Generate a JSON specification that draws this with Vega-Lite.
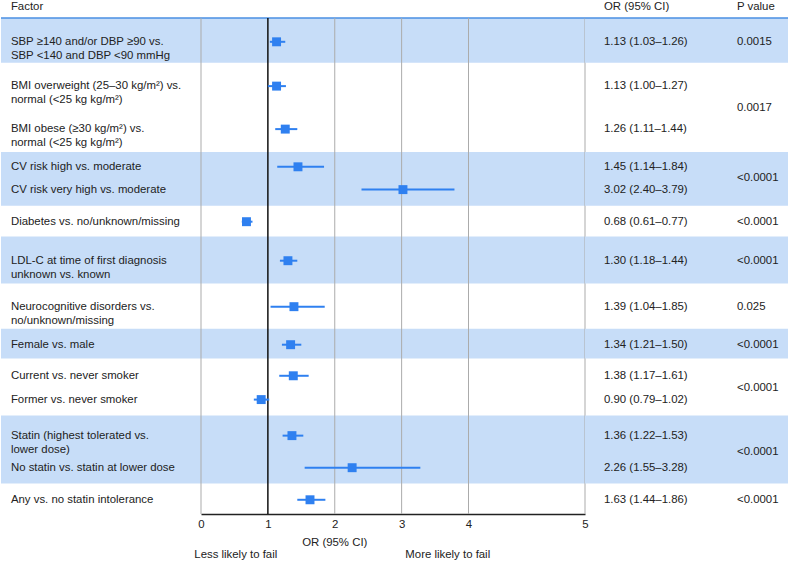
{
  "$schema": "https://vega.github.io/schema/vega-lite/v6.json",
  "padding": 0,
  "background": "white",
  "bounds": "flush",
  "spacing": 0,
  "config": {
    "view": {"stroke": null},
    "font": "Liberation Sans",
    "text": {"font": "Liberation Sans", "fontSize": 11.4, "color": "#222222"},
    "axis": {"labelFont": "Liberation Sans", "labelFontSize": 11.4, "labelColor": "#222222"}
  },
  "datasets": {
    "rows": [
      {"label": "SBP ≥140 and/or DBP ≥90 vs.\nSBP <140 and DBP <90 mmHg", "group": 1, "pos": 0.72, "or": 1.13, "lo": 1.03, "hi": 1.26, "ci": "1.13 (1.03–1.26)", "p": "0.0015"},
      {"label": "BMI overweight (25–30 kg/m²) vs.\nnormal (<25 kg kg/m²)", "group": 2, "pos": 2.06, "or": 1.13, "lo": 1.00, "hi": 1.27, "ci": "1.13 (1.00–1.27)", "p": "0.0017"},
      {"label": "BMI obese (≥30 kg/m²) vs.\nnormal (<25 kg kg/m²)", "group": 2, "pos": 3.36, "or": 1.26, "lo": 1.11, "hi": 1.44, "ci": "1.26 (1.11–1.44)", "p": "0.0017"},
      {"label": "CV risk high vs. moderate", "group": 3, "pos": 4.50, "or": 1.45, "lo": 1.14, "hi": 1.84, "ci": "1.45 (1.14–1.84)", "p": "<0.0001"},
      {"label": "CV risk very high vs. moderate", "group": 3, "pos": 5.19, "or": 3.02, "lo": 2.40, "hi": 3.79, "ci": "3.02 (2.40–3.79)", "p": "<0.0001"},
      {"label": "Diabetes vs. no/unknown/missing", "group": 4, "pos": 6.16, "or": 0.68, "lo": 0.61, "hi": 0.77, "ci": "0.68 (0.61–0.77)", "p": "<0.0001"},
      {"label": "LDL-C at time of first diagnosis\nunknown vs. known", "group": 5, "pos": 7.34, "or": 1.30, "lo": 1.18, "hi": 1.44, "ci": "1.30 (1.18–1.44)", "p": "<0.0001"},
      {"label": "Neurocognitive disorders vs.\nno/unknown/missing", "group": 6, "pos": 8.73, "or": 1.39, "lo": 1.04, "hi": 1.85, "ci": "1.39 (1.04–1.85)", "p": "0.025"},
      {"label": "Female vs. male", "group": 7, "pos": 9.88, "or": 1.34, "lo": 1.21, "hi": 1.50, "ci": "1.34 (1.21–1.50)", "p": "<0.0001"},
      {"label": "Current vs. never smoker", "group": 8, "pos": 10.82, "or": 1.38, "lo": 1.17, "hi": 1.61, "ci": "1.38 (1.17–1.61)", "p": "<0.0001"},
      {"label": "Former vs. never smoker", "group": 8, "pos": 11.54, "or": 0.90, "lo": 0.79, "hi": 1.02, "ci": "0.90 (0.79–1.02)", "p": "<0.0001"},
      {"label": "Statin (highest tolerated vs.\nlower dose)", "group": 9, "pos": 12.63, "or": 1.36, "lo": 1.22, "hi": 1.53, "ci": "1.36 (1.22–1.53)", "p": "<0.0001"},
      {"label": "No statin vs. statin at lower dose", "group": 9, "pos": 13.60, "or": 2.26, "lo": 1.55, "hi": 3.28, "ci": "2.26 (1.55–3.28)", "p": "<0.0001"},
      {"label": "Any vs. no statin intolerance", "group": 10, "pos": 14.57, "or": 1.63, "lo": 1.44, "hi": 1.86, "ci": "1.63 (1.44–1.86)", "p": "<0.0001"}
    ],
    "bands": [
      {"group": 1, "y0": 0, "y1": 1.35},
      {"group": 3, "y0": 4.05, "y1": 5.68},
      {"group": 5, "y0": 6.61, "y1": 8.03},
      {"group": 7, "y0": 9.40, "y1": 10.30},
      {"group": 9, "y0": 12.02, "y1": 14.08}
    ],
    "grid": [{"g": 0}, {"g": 2}, {"g": 3}, {"g": 4}, {"g": 5}]
  },
  "hconcat": [
    {
      "width": 200,
      "height": 496,
      "layer": [
        {
          "data": {"name": "bands"},
          "mark": {"type": "rect", "color": "#c7ddf8"},
          "encoding": {
            "y": {"field": "y0", "type": "quantitative", "scale": {"domain": [0, 15], "reverse": true, "nice": false, "zero": false}, "axis": null},
            "y2": {"field": "y1"}
          }
        },
        {
          "data": {"values": [{}]},
          "mark": {"type": "rule", "color": "#4a8fe3", "strokeWidth": 1.5},
          "encoding": {"y": {"datum": 0, "type": "quantitative", "axis": null}}
        },
        {
          "data": {"name": "rows"},
          "mark": {"type": "text", "align": "left", "baseline": "middle", "lineBreak": "\n", "lineHeight": 14},
          "encoding": {
            "x": {"datum": "Factor", "type": "nominal", "bandPosition": 0,
                  "scale": {"type": "band", "domain": ["Factor"], "paddingOuter": 0.055, "paddingInner": 0},
                  "axis": {"orient": "top", "title": null, "ticks": false, "tickSize": 0, "domain": false, "labelAlign": "left", "labelBaseline": "middle", "labelPadding": 12, "labelOffset": -90.1, "labelAngle": 0}},
            "y": {"field": "pos", "type": "quantitative", "axis": null},
            "text": {"field": "label"}
          }
        }
      ]
    },
    {
      "width": 384,
      "height": 496,
      "layer": [
        {
          "data": {"name": "bands"},
          "mark": {"type": "rect", "color": "#c7ddf8"},
          "encoding": {
            "y": {"field": "y0", "type": "quantitative", "scale": {"domain": [0, 15], "reverse": true, "nice": false, "zero": false}, "axis": null},
            "y2": {"field": "y1"}
          }
        },
        {
          "data": {"values": [{}]},
          "mark": {"type": "rule", "color": "#4a8fe3", "strokeWidth": 1.5},
          "encoding": {"y": {"datum": 0, "type": "quantitative", "axis": null}}
        },
        {
          "data": {"name": "grid"},
          "mark": {"type": "rule", "color": "#ababab", "strokeWidth": 1},
          "encoding": {
            "x": {"field": "g", "type": "quantitative",
                  "scale": {"domain": [0, 4, 5], "range": [0, 267.5, 384], "nice": false, "zero": false},
                  "axis": {"values": [0, 1, 2, 3, 4, 5], "title": null, "grid": false, "ticks": false, "tickSize": 0, "domainColor": "#222222", "domainWidth": 1.5, "labelPadding": 4, "labelFlush": false, "labelOverlap": false}}
          }
        },
        {
          "data": {"values": [{}]},
          "mark": {"type": "rule", "color": "#111111", "strokeWidth": 1.5},
          "encoding": {
            "x": {"datum": 1, "type": "quantitative",
                  "axis": {"values": [0, 1, 2, 3, 4, 5], "title": null, "grid": false, "ticks": false, "tickSize": 0, "domainColor": "#222222", "domainWidth": 1.5, "labelPadding": 4, "labelFlush": false, "labelOverlap": false}}
          }
        },
        {
          "data": {"name": "rows"},
          "mark": {"type": "rule", "color": "#2f80f0", "strokeWidth": 2},
          "encoding": {
            "x": {"field": "lo", "type": "quantitative",
                  "axis": {"values": [0, 1, 2, 3, 4, 5], "title": null, "grid": false, "ticks": false, "tickSize": 0, "domainColor": "#222222", "domainWidth": 1.5, "labelPadding": 4, "labelFlush": false, "labelOverlap": false}},
            "x2": {"field": "hi"},
            "y": {"field": "pos", "type": "quantitative", "axis": null}
          }
        },
        {
          "data": {"name": "rows"},
          "mark": {"type": "square", "filled": true, "size": 80, "color": "#2f80f0", "opacity": 1},
          "encoding": {
            "x": {"field": "or", "type": "quantitative",
                  "axis": {"values": [0, 1, 2, 3, 4, 5], "title": null, "grid": false, "ticks": false, "tickSize": 0, "domainColor": "#222222", "domainWidth": 1.5, "labelPadding": 4, "labelFlush": false, "labelOverlap": false}},
            "y": {"field": "pos", "type": "quantitative", "axis": null}
          }
        },
        {
          "data": {"values": [{}]},
          "mark": {"type": "text", "text": "OR (95% CI)", "align": "center", "baseline": "middle"},
          "encoding": {
            "x": {"datum": 2, "type": "quantitative",
                  "axis": {"values": [0, 1, 2, 3, 4, 5], "title": null, "grid": false, "ticks": false, "tickSize": 0, "domainColor": "#222222", "domainWidth": 1.5, "labelPadding": 4, "labelFlush": false, "labelOverlap": false}},
            "y": {"datum": 15.87, "type": "quantitative", "axis": null}
          }
        },
        {
          "data": {"values": [{}]},
          "mark": {"type": "text", "text": "Less likely to fail", "align": "center", "baseline": "middle"},
          "encoding": {
            "x": {"datum": 0.52, "type": "quantitative",
                  "axis": {"values": [0, 1, 2, 3, 4, 5], "title": null, "grid": false, "ticks": false, "tickSize": 0, "domainColor": "#222222", "domainWidth": 1.5, "labelPadding": 4, "labelFlush": false, "labelOverlap": false}},
            "y": {"datum": 16.25, "type": "quantitative", "axis": null}
          }
        },
        {
          "data": {"values": [{}]},
          "mark": {"type": "text", "text": "More likely to fail", "align": "center", "baseline": "middle"},
          "encoding": {
            "x": {"datum": 3.69, "type": "quantitative",
                  "axis": {"values": [0, 1, 2, 3, 4, 5], "title": null, "grid": false, "ticks": false, "tickSize": 0, "domainColor": "#222222", "domainWidth": 1.5, "labelPadding": 4, "labelFlush": false, "labelOverlap": false}},
            "y": {"datum": 16.25, "type": "quantitative", "axis": null}
          }
        }
      ]
    },
    {
      "width": 204,
      "height": 496,
      "layer": [
        {
          "data": {"name": "bands"},
          "mark": {"type": "rect", "color": "#c7ddf8"},
          "encoding": {
            "y": {"field": "y0", "type": "quantitative", "scale": {"domain": [0, 15], "reverse": true, "nice": false, "zero": false}, "axis": null},
            "y2": {"field": "y1"}
          }
        },
        {
          "data": {"values": [{}]},
          "mark": {"type": "rule", "color": "#4a8fe3", "strokeWidth": 1.5},
          "encoding": {"y": {"datum": 0, "type": "quantitative", "axis": null}}
        },
        {
          "data": {"name": "rows"},
          "mark": {"type": "text", "align": "left", "baseline": "middle"},
          "encoding": {
            "x": {"datum": "OR (95% CI)", "type": "nominal", "bandPosition": 0,
                  "scale": {"type": "band", "domain": ["OR (95% CI)", "P value"], "paddingInner": 0.752, "paddingOuter": 0.143},
                  "axis": {"orient": "top", "title": null, "ticks": false, "tickSize": 0, "domain": false, "labelAlign": "left", "labelBaseline": "middle", "labelPadding": 12, "labelOffset": -16.5, "labelAngle": 0}},
            "y": {"field": "pos", "type": "quantitative", "axis": null},
            "text": {"field": "ci"}
          }
        },
        {
          "data": {"name": "rows"},
          "mark": {"type": "text", "align": "left", "baseline": "middle"},
          "encoding": {
            "x": {"datum": "P value", "type": "nominal", "bandPosition": 0,
                  "axis": {"orient": "top", "title": null, "ticks": false, "tickSize": 0, "domain": false, "labelAlign": "left", "labelBaseline": "middle", "labelPadding": 12, "labelOffset": -16.5, "labelAngle": 0}},
            "y": {"aggregate": "mean", "field": "pos", "type": "quantitative", "axis": null},
            "detail": {"field": "group", "type": "nominal"},
            "text": {"field": "p"}
          }
        }
      ]
    }
  ]
}
